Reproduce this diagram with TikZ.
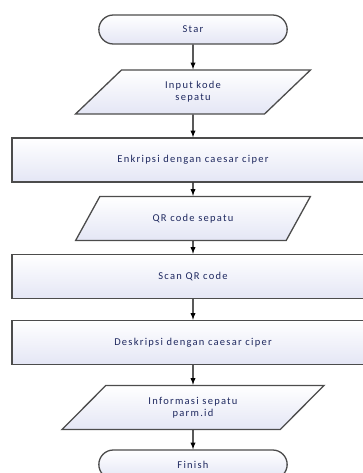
\documentclass[tikz,border=0pt]{standalone}
\usepackage{fontspec}
\setmainfont{Carlito}[LetterSpace=12]
\usetikzlibrary{shapes.geometric,shapes.misc}
\definecolor{boxfill}{RGB}{228,230,245}
\definecolor{boxtext}{RGB}{30,40,95}
\begin{document}
\begin{tikzpicture}
			[
				x                       = 1pt,
				y                       = 1pt,
				grow                    = down,
				edge from parent/.style = {draw, line width=1.3pt, -latex},
				every node/.style       = {font=\fontsize{10.5}{12}\selectfont, text=boxtext, align=center},
				shapebase/.style        = {draw=black!70, line width=1.3pt, top color=white, bottom color=boxfill},
				terminal/.style         = {shapebase, rounded rectangle, minimum width=195pt, minimum height=29pt},
				inout/.style            = {shapebase, trapezium, trapezium stretches=true,
				                           trapezium left angle=54, trapezium right angle=126,
				                           minimum width=235pt, minimum height=44pt},
				process/.style          = {shapebase, rectangle, minimum width=362pt, minimum height=44pt}
			]
			\useasboundingbox (0,0) rectangle (362,-473);
			\node [terminal] (star) at (193,-29.5) {Star}
				child [level distance=62.5pt] { node [inout] (input) {Input kode\\sepatu}
					child [level distance=68pt] { node [process] (enkripsi) {Enkripsi dengan caesar ciper}
						child [level distance=58.5pt] { node [inout] (qrcode) {QR code sepatu}
							child [level distance=58pt] { node [process] (scan) {Scan QR code}
								child [level distance=66pt] { node [process] (deskripsi) {Deskripsi dengan caesar ciper}
									child [level distance=65pt] { node [inout, minimum width=262pt,
											trapezium left angle=49, trapezium right angle=131] (informasi) {Informasi sepatu\\parm.id}
										child [level distance=57pt] { node [terminal] (finish) {Finish} }
									}
								}
							}
						}
					}
				};
		\end{tikzpicture}
\end{document}
